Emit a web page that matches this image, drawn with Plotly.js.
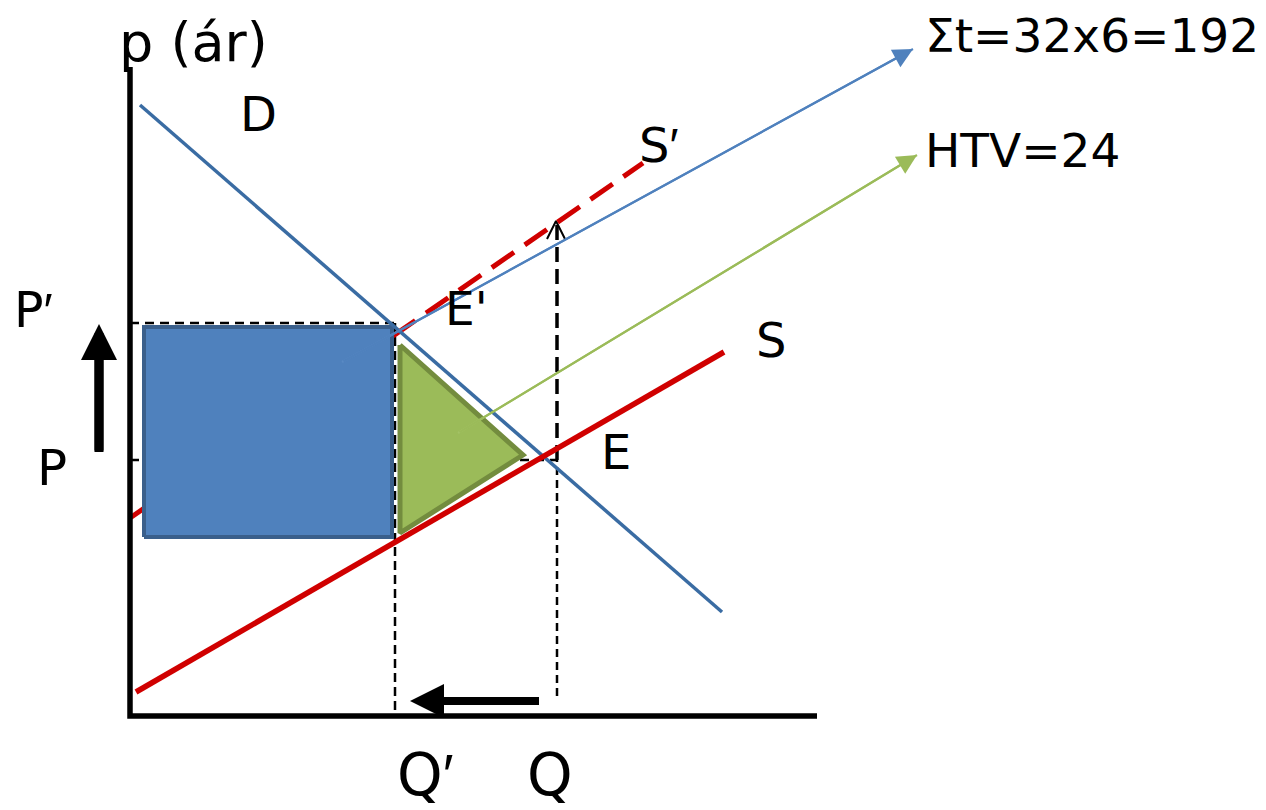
<!DOCTYPE html>
<html>
<head>
<meta charset="utf-8">
<script src="https://cdn.plot.ly/plotly-3.0.1.min.js"></script>
<style>html,body{margin:0;padding:0;background:#fff;}#chart{width:1266px;height:810px;}</style>
</head>
<body>
<div id="chart"></div>
<script>
// Economic coordinates: q = quantity (right), p = price (up); origin at the axes' corner
const axisQ = [0, 0, 687];
const axisP = [649, 0, 0];

const demandQ = [10, 592];
const demandP = [611, 104];

const supplyQ = [6, 594];
const supplyP = [24, 364];

const supplyTaxQ = [0, 513];
const supplyTaxP = [198, 553];

const taxRevenueQ = [14, 262, 262, 14, 14];
const taxRevenueP = [179, 179, 389, 389, 179];

const deadweightQ = [270, 393, 270, 270];
const deadweightP = [371, 261, 183, 371];

const priceNew = 393;   // P'
const priceOld = 256;   // P
const qtyNew = 265;     // Q'
const qtyOld = 427;     // Q

const pPrimeDashQ = [0, qtyNew];
const qPrimeDashP = [6, priceNew];
const pDashQ = [0, qtyOld];
const qUpperDashP = [priceOld, 494];
const qLowerDashP = [20, priceOld];

const caretQ = [417, 426, 435];
const caretP = [477, 495, 477];

const taxArrowQ = [212, 783];
const taxArrowP = [354, 667];
const dwlArrowQ = [328, 787];
const dwlArrowP = [283, 561];

const priceArrowQ = -31;
const priceArrowP = [264, 392];
const qtyArrowP = 15;
const qtyArrowQ = [409, 280];

const PRIME = '<span style="font-family:\'Liberation Sans\'">′</span>';
const labelTexts = ['p (ár)', 'D', 'S' + PRIME, 'S', "E'", 'E', 'P' + PRIME, 'P', 'Q' + PRIME, 'Q'];
const labelQ = [63, 128, 528, 641, 336, 486, -97, -78, 295, 420];
const labelP = [674, 602, 571, 376, 408, 264, 406, 248, -59, -59];
const labelSize = [54, 48, 48, 48, 47, 48, 49, 50, 58, 58];

const noteTexts = ['Σt=32x6=192', 'HTV=24'];
const noteQ = [793, 793];
const noteP = [681, 566];

const FONT = 'DejaVu Sans, Verdana, sans-serif';

function line(q, p, color, width, dash) {
  return {type: 'scatter', mode: 'lines', x: q, y: p, hoverinfo: 'skip',
    line: {color: color, width: width, dash: dash || 'solid'}};
}

const traces = [
  line(pPrimeDashQ, [priceNew, priceNew], '#000', 2.5, '9px,6px'),
  line(pDashQ, [priceOld, priceOld], '#000', 2.5, '9px,6px'),
  line([qtyNew, qtyNew], qPrimeDashP, '#000', 2.5, '9px,5px'),
  line([qtyOld, qtyOld], qUpperDashP, '#000', 3.5, '15px,7px'),
  line([qtyOld, qtyOld], qLowerDashP, '#000', 2.5, '8px,5px'),
  line(caretQ, caretP, '#000', 2),
  line(supplyTaxQ, supplyTaxP, '#D00000', 5, '27px,13px'),
  {type: 'scatter', mode: 'lines', x: taxRevenueQ, y: taxRevenueP, fill: 'toself',
    fillcolor: '#4F81BD', line: {color: '#3A5F8B', width: 4}, hoverinfo: 'skip'},
  {type: 'scatter', mode: 'lines', x: deadweightQ, y: deadweightP, fill: 'toself',
    fillcolor: '#9BBB59', line: {color: '#738C3E', width: 5}, hoverinfo: 'skip'},
  line(demandQ, demandP, '#3A6CA3', 3.5),
  line(supplyQ, supplyP, '#D00000', 5.5),
  line(axisQ, axisP, '#000', 5.5),
  line(taxArrowQ, taxArrowP, '#5A8AC4', 2.2),
  line(dwlArrowQ, dwlArrowP, '#A3C266', 2.2),
  line([priceArrowQ, priceArrowQ], [priceArrowP[0], priceArrowP[1] - 15], '#000', 9),
  line([qtyArrowQ[0], qtyArrowQ[1] + 15], [qtyArrowP, qtyArrowP], '#000', 8)
];

function head(tipQ, tipP, fromQ, fromP, color, size, width) {
  return {x: tipQ, y: tipP, ax: fromQ, ay: fromP,
    xref: 'x', yref: 'y', axref: 'x', ayref: 'y', text: '', showarrow: true,
    arrowhead: 2, arrowsize: size, arrowwidth: width, arrowcolor: color, standoff: 0};
}

const annotations = [
  head(taxArrowQ[1], taxArrowP[1], taxArrowQ[0], taxArrowP[0], '#4F81BD', 1.8, 2.2),
  head(dwlArrowQ[1], dwlArrowP[1], dwlArrowQ[0], dwlArrowP[0], '#9BBB59', 1.8, 2.2),
  head(priceArrowQ, priceArrowP[1], priceArrowQ, priceArrowP[0], '#000', 0.8, 9),
  head(qtyArrowQ[1], qtyArrowP, qtyArrowQ[0], qtyArrowP, '#000', 0.85, 8)
];

labelTexts.forEach((t, i) => annotations.push({
  x: labelQ[i], y: labelP[i], xref: 'x', yref: 'y', text: t, showarrow: false,
  xanchor: 'center', yanchor: 'middle',
  font: {family: FONT, size: labelSize[i], color: '#000'}
}));
noteTexts.forEach((t, i) => annotations.push({
  x: noteQ[i], y: noteP[i], xref: 'x', yref: 'y', text: t, showarrow: false,
  xanchor: 'left', yanchor: 'middle',
  font: {family: FONT, size: 47, color: '#000'}
}));

const layout = {
  width: 1266, height: 810,
  margin: {l: 0, r: 0, t: 0, b: 0, pad: 0},
  paper_bgcolor: '#ffffff', plot_bgcolor: '#ffffff',
  showlegend: false,
  xaxis: {range: [-130, 1136], visible: false, fixedrange: true},
  yaxis: {range: [-94, 716], visible: false, fixedrange: true},
  annotations: annotations
};

Plotly.newPlot('chart', traces, layout, {displayModeBar: false, staticPlot: true});
</script>
</body>
</html>
